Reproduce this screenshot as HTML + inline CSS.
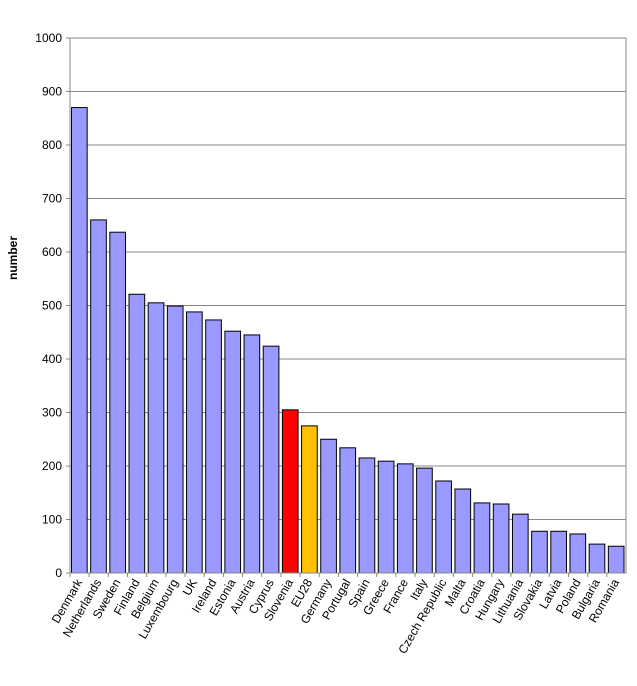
<!DOCTYPE html>
<html><head><meta charset="utf-8"><style>body{margin:0;background:#fff}svg{font-family:"Liberation Sans",sans-serif}</style></head>
<body>
<svg id="c" width="637" height="681"></svg>
<script>
const categories=["Denmark","Netherlands","Sweden","Finland","Belgium","Luxembourg","UK","Ireland","Estonia","Austria","Cyprus","Slovenia","EU28","Germany","Portugal","Spain","Greece","France","Italy","Czech Republic","Malta","Croatia","Hungary","Lithuania","Slovakia","Latvia","Poland","Bulgaria","Romania"];
const values=[870,660,637,521,505,499,488,473,452,445,424,305,275,250,234,215,209,204,196,172,157,131,129,110,78,78,73,54,50];
const yTicks=[0,100,200,300,400,500,600,700,800,900,1000];
const NS="http://www.w3.org/2000/svg",svg=document.getElementById('c');
const x0=70,x1=626,y0=573,y1=38,slot=(x1-x0)/categories.length;
const y=v=>y0-(v/1000)*(y0-y1);
function mk(t,a){const e=document.createElementNS(NS,t);for(const k in a)e.setAttribute(k,a[k]);svg.appendChild(e);return e;}
yTicks.forEach(t=>{
 if(t>0){const g=mk('line',{x1:x0,x2:x1,y1:y(t),y2:y(t),stroke:'#888','stroke-width':1});
 
 }
 const tk=mk('line',{x1:x0-4,x2:x0,y1:y(t),y2:y(t),stroke:'#888'});
 
 
 const l=mk('text',{x:x0-8,y:y(t)+4,'text-anchor':'end','font-size':12});l.textContent=t;
 
 
});
mk('rect',{x:x0,y:y1,width:x1-x0,height:y0-y1,fill:'none',stroke:'#888'});
categories.forEach((c,i)=>{
 const bx=x0+i*slot+1.5,v=values[i];
 const fill=c==="Slovenia"?"#ff0000":c==="EU28"?"#ffc000":"#9999ff";
 const r=mk('rect',{x:bx,y:y(v),width:slot-3.5,height:y0-y(v),fill:fill,stroke:'#000','stroke-width':1});
 
 
 const tk=mk('line',{x1:x0+i*slot,x2:x0+i*slot,y1:y0,y2:y0+4,stroke:'#888'});
 
 
 const cx=x0+(i+0.5)*slot+3,cy=y0+9;
 const l=mk('text',{x:cx,y:cy,'text-anchor':'end','font-size':12,transform:`rotate(-60 ${cx} ${cy})`});
 l.textContent=c;
 
 
});
mk('line',{x1:x0,x2:x1,y1:y0,y2:y0,stroke:'#888'});
const yt=mk('text',{x:17,y:258,'text-anchor':'middle','font-size':12,'font-weight':'bold',transform:'rotate(-90 17 258)'});
yt.textContent='number';


</script>
</body></html>
